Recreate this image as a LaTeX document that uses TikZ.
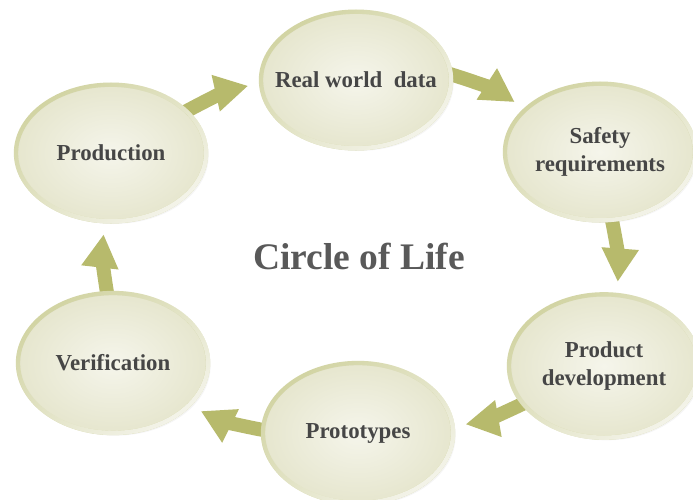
\documentclass[tikz,border=0pt]{standalone}
\usepackage{fontspec}
\setmainfont{Liberation Serif}
\usetikzlibrary{arrows.meta,shapes.geometric,backgrounds,fadings,shadows}
\definecolor{arrowgreen}{HTML}{B7BA6C}
\definecolor{rimgreen}{HTML}{D2D4A3}
\definecolor{rimlight}{HTML}{F4F4EA}
\definecolor{fillin}{HTML}{F5F5EB}
\definecolor{fillout}{HTML}{E6E6CE}
\definecolor{textgray}{HTML}{464646}
\definecolor{titlegray}{HTML}{595959}
\begin{document}
\begin{tikzpicture}[x=0.03cm, y=-0.03cm,
    stage/.style={ellipse, draw=rimgreen, line width=0.13cm,
        inner color=fillin, outer color=fillout,
        drop shadow={opacity=0.08, shadow xshift=0.08cm, shadow yshift=-0.08cm},
        postaction={draw=rimlight, line width=0.13cm,
            path fading=east, fading angle=135},
        minimum width=5.7cm, minimum height=4.1cm,
        inner xsep=-0.6cm, inner ysep=0pt,
        text=textgray, align=center,
        font=\bfseries\fontsize{19.5}{23.5}\selectfont},
    flow/.style={draw=arrowgreen, line width=0.42cm,
        -{Triangle[width=1.05cm, length=1.0cm]},
        shorten <=-0.2cm, shorten >=0.33cm}]
    \useasboundingbox (0,0) rectangle (693,500);

    % The six stages of the cycle
    \node[stage] (prod)   at (111,153) {Production};
    \node[stage] (real)   at (356,80)  {Real world~ data};
    \node[stage] (safety) at (600,152) {Safety\\requirements};
    \node[stage, minimum height=4.3cm] (dev) at (604,366) {Product\\development};
    \node[stage, minimum height=4.2cm] (proto) at (358,433) {Prototypes};
    \node[stage, minimum height=4.2cm] (verif) at (113,363) {Verification};

    % Title in the middle
    \node[font=\bfseries\fontsize{32}{36}\selectfont, text=titlegray]
        (title) at (359,256) {Circle of Life};

    % Fat arrows, drawn behind the stages
    \begin{pgfonlayer}{background}
        \draw[flow] (prod.29)    to[bend left=8] (real.182);
        \draw[flow] (real.3)     to[bend left=8] (safety.150);
        \draw[flow] (safety.-80) to[bend left=8] (dev.80);
        \draw[flow] (dev.205)    to[bend left=8] (proto.4);
        \draw[flow] (proto.178)  to[bend left=8] (verif.-29);
        \draw[flow] (verif.95)   to[bend left=8] (prod.-95);
    \end{pgfonlayer}
\end{tikzpicture}
\end{document}
